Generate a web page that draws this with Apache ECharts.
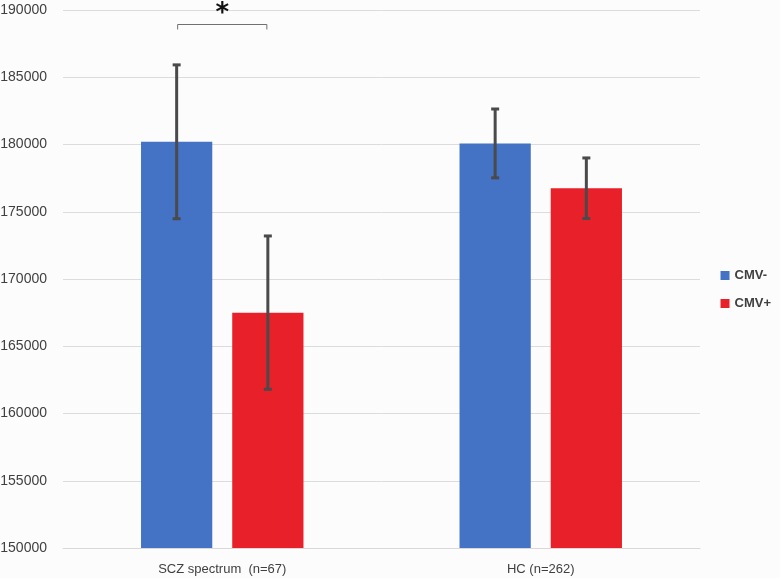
<!DOCTYPE html>
<html>
<head>
<meta charset="utf-8">
<script src="https://cdn.jsdelivr.net/npm/echarts@6/dist/echarts.min.js"></script>
<style>
html,body{margin:0;padding:0;background:#fcfcfc;}
#chart{width:780px;height:578px;}
</style>
</head>
<body>
<div id="chart"></div>
<script>
const categories = ['SCZ spectrum  (n=67)', 'HC (n=262)'];
const seriesNames = ['CMV-', 'CMV+'];
const cmvNeg = [180200, 180080];
const cmvPos = [167500, 176750];
const cmvNegErr = [5720, 2560];
const cmvPosErr = [5700, 2250];
const yTicks = { min: 150000, max: 190000, interval: 5000 };
const sigBracket = { category: 0, value: 188950, label: '*' };

const colors = ['#4472c4', '#e8202a'];
const chart = echarts.init(document.getElementById('chart'));

const CAT_GAP = 0.49, BAR_GAP = 0.28;
function barOffset(bw, idx) {
  const barW = bw * (1 - CAT_GAP) / (2 + BAR_GAP);
  const d = barW * (1 + BAR_GAP) / 2;
  return idx === 0 ? -d : d;
}

function errorSeries(idx, means, errs) {
  return {
    type: 'custom',
    name: seriesNames[idx] + ' err',
    z: 10,
    silent: true,
    data: means.map((m, i) => [i, m - errs[i], m + errs[i]]),
    renderItem: function (params, api) {
      const bw = api.size([1, 0])[0];
      const off = barOffset(bw, idx);
      const lo = api.coord([api.value(0), api.value(1)]);
      const hi = api.coord([api.value(0), api.value(2)]);
      const x = lo[0] + off;
      const cap = 4;
      const st = { stroke: '#4a4a4a', lineWidth: 3 };
      return {
        type: 'group',
        children: [
          { type: 'line', shape: { x1: x, y1: lo[1], x2: x, y2: hi[1] }, style: st },
          { type: 'line', shape: { x1: x - cap, y1: lo[1], x2: x + cap, y2: lo[1] }, style: st },
          { type: 'line', shape: { x1: x - cap, y1: hi[1], x2: x + cap, y2: hi[1] }, style: st }
        ]
      };
    }
  };
}

const option = {
  backgroundColor: '#fcfcfc',
  animation: false,
  textStyle: { fontFamily: 'Liberation Sans, Arial, sans-serif' },
  grid: { left: 63, right: 80, top: 10, bottom: 30, containLabel: false, outerBoundsMode: 'none' },
  legend: {
    orient: 'vertical',
    right: 4,
    top: 264,
    icon: 'rect',
    itemWidth: 9,
    itemHeight: 9,
    itemGap: 15,
    itemStyle: { borderWidth: 0 },
    data: seriesNames,
    textStyle: { color: '#404040', fontSize: 13, fontWeight: 'bold' }
  },
  xAxis: {
    type: 'category',
    data: categories,
    axisLine: { lineStyle: { color: '#d9d9d9', width: 1 } },
    axisTick: { show: false },
    axisLabel: { color: '#404040', fontSize: 13, margin: 15 }
  },
  yAxis: {
    type: 'value',
    min: yTicks.min,
    max: yTicks.max,
    interval: yTicks.interval,
    axisLine: { show: false },
    axisTick: { show: false },
    axisLabel: { color: '#404040', fontSize: 14, margin: 16, formatter: v => String(v) },
    splitLine: { lineStyle: { color: '#dcdcdc', width: 1 } }
  },
  series: [
    {
      name: seriesNames[0], type: 'bar', data: cmvNeg,
      itemStyle: { color: colors[0] },
      barCategoryGap: (CAT_GAP * 100) + '%', barGap: (BAR_GAP * 100) + '%'
    },
    {
      name: seriesNames[1], type: 'bar', data: cmvPos,
      itemStyle: { color: colors[1] },
      barCategoryGap: (CAT_GAP * 100) + '%', barGap: (BAR_GAP * 100) + '%'
    },
    errorSeries(0, cmvNeg, cmvNegErr),
    errorSeries(1, cmvPos, cmvPosErr),
    {
      type: 'custom',
      name: 'sig',
      z: 11,
      silent: true,
      clip: false,
      data: [[sigBracket.category, sigBracket.value]],
      renderItem: function (params, api) {
        const bw = api.size([1, 0])[0];
        const p = api.coord([api.value(0), api.value(1)]);
        const x1 = p[0] + barOffset(bw, 0) + 1;
        const x2 = p[0] + barOffset(bw, 1) - 1;
        const y = Math.round(p[1]) + 0.5;
        const st = { stroke: '#707070', lineWidth: 1, fill: null };
        return {
          type: 'group',
          children: [
            { type: 'polyline', shape: { points: [[x1, y + 5], [x1, y], [x2, y], [x2, y + 5]] }, style: st },
            { type: 'text', style: { text: sigBracket.label, x: (x1 + x2) / 2, y: y - 23, align: 'center', verticalAlign: 'top', fontSize: 26, fontWeight: 'bold', fill: '#111', fontFamily: 'DejaVu Sans' } }
          ]
        };
      }
    }
  ]
};
chart.setOption(option);
</script>
</body>
</html>
